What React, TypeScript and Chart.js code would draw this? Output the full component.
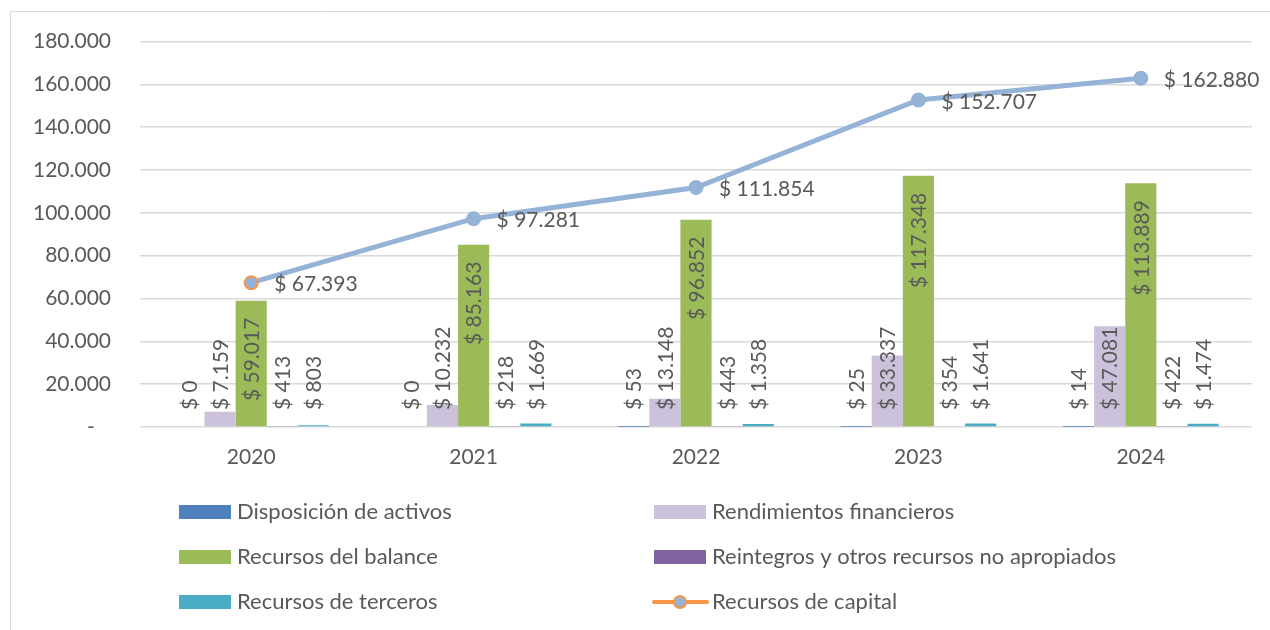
import React, { useEffect, useRef } from 'react';
import { Chart, registerables } from 'chart.js';

Chart.register(...registerables);

const categories = ['2020', '2021', '2022', '2023', '2024'];
const disposicionActivos = [0, 0, 53, 25, 14];
const rendimientosFinancieros = [7159, 10232, 13148, 33337, 47081];
const recursosBalance = [59017, 85163, 96852, 117348, 113889];
const reintegros = [413, 218, 443, 354, 422];
const recursosTerceros = [803, 1669, 1358, 1641, 1474];
const recursosCapital = [67393, 97281, 111854, 152707, 162880];

const yMin = 0;
const yMax = 180000;
const yStep = 20000;

const FONT = 'Lato';
const TEXT = '#595959';
const GRID = '#D9D9D9';
const C_BLUE = '#4F81BD';
const C_LAV = '#CCC1DA';
const C_GREEN = '#9BBB59';
const C_PURPLE = '#8064A2';
const C_TEAL = '#4BACC6';
const C_LINE = '#95B3D7';
const C_ORANGE = '#F79646';

function fmt(v: number): string {
  return Math.round(v).toString().replace(/\B(?=(\d{3})+(?!\d))/g, '.');
}

const framePlugin = {
  id: 'frame',
  beforeDraw(chart: any) {
    const ctx = chart.ctx;
    ctx.save();
    ctx.fillStyle = '#ffffff';
    ctx.fillRect(0, 0, chart.width, chart.height);
    ctx.strokeStyle = GRID;
    ctx.lineWidth = 1;
    ctx.beginPath();
    ctx.moveTo(10.5, chart.height);
    ctx.lineTo(10.5, 11.5);
    ctx.lineTo(chart.width, 11.5);
    ctx.stroke();
    ctx.restore();
  },
};

const labelsPlugin = {
  id: 'valueLabels',
  afterDatasetsDraw(chart: any) {
    const ctx = chart.ctx;
    const base = chart.scales.y.getPixelForValue(0);
    ctx.save();
    ctx.fillStyle = TEXT;
    ctx.font = `21px ${FONT}`;
    chart.data.datasets.forEach((ds: any, di: number) => {
      const meta = chart.getDatasetMeta(di);
      if (ds.type === 'line') {
        meta.data.forEach((pt: any, i: number) => {
          ctx.textAlign = 'left';
          ctx.textBaseline = 'middle';
          ctx.fillText('$ ' + fmt(ds.data[i]), pt.x + 23, pt.y + 2);
        });
      } else {
        meta.data.forEach((bar: any, i: number) => {
          const text = '$ ' + fmt(ds.data[i]);
          ctx.save();
          if (ds.label === 'Recursos del balance') {
            ctx.translate(bar.x + 1, bar.y + 17);
            ctx.rotate(-Math.PI / 2);
            ctx.textAlign = 'right';
          } else {
            ctx.translate(bar.x + 1, base - 17);
            ctx.rotate(-Math.PI / 2);
            ctx.textAlign = 'left';
          }
          ctx.textBaseline = 'middle';
          ctx.fillText(text, 0, 0);
          ctx.restore();
        });
      }
    });
    ctx.restore();
  },
};

const legendPlugin = {
  id: 'customLegend',
  afterDraw(chart: any) {
    const ctx = chart.ctx;
    const items = [
      { label: 'Disposición de activos', color: C_BLUE, col: 0, row: 0 },
      { label: 'Rendimientos financieros', color: C_LAV, col: 1, row: 0 },
      { label: 'Recursos del balance', color: C_GREEN, col: 0, row: 1 },
      { label: 'Reintegros y otros recursos no apropiados', color: C_PURPLE, col: 1, row: 1 },
      { label: 'Recursos de terceros', color: C_TEAL, col: 0, row: 2 },
      { label: 'Recursos de capital', color: C_ORANGE, col: 1, row: 2, line: true },
    ];
    const colX = [179, 654];
    const rowY = [512, 557, 602];
    ctx.save();
    ctx.font = `22px ${FONT}`;
    ctx.textBaseline = 'middle';
    ctx.textAlign = 'left';
    items.forEach((it) => {
      const x = colX[it.col];
      const y = rowY[it.row];
      if (it.line) {
        ctx.strokeStyle = C_ORANGE;
        ctx.lineWidth = 4;
        ctx.lineCap = 'round';
        ctx.beginPath();
        ctx.moveTo(x, y);
        ctx.lineTo(x + 53, y);
        ctx.stroke();
        ctx.beginPath();
        ctx.arc(x + 26, y, 6, 0, Math.PI * 2);
        ctx.fillStyle = C_LINE;
        ctx.fill();
        ctx.lineWidth = 2;
        ctx.strokeStyle = C_ORANGE;
        ctx.stroke();
      } else {
        ctx.fillStyle = it.color;
        ctx.fillRect(x, y - 7, 52, 14);
      }
      ctx.fillStyle = TEXT;
      ctx.fillText(it.label, x + 58, y);
    });
    ctx.restore();
  },
};

export default function App() {
  const ref = useRef<HTMLCanvasElement | null>(null);

  useEffect(() => {
    if (!ref.current) return;
    const chart = new Chart(ref.current, {
      type: 'bar',
      data: {
        labels: categories,
        datasets: [
          {
            type: 'line',
            label: 'Recursos de capital',
            data: recursosCapital,
            borderColor: C_LINE,
            backgroundColor: C_LINE,
            borderWidth: 5,
            pointRadius: 6.5,
            pointBackgroundColor: C_LINE,
            pointBorderColor: [C_ORANGE, C_LINE, C_LINE, C_LINE, C_LINE],
            pointBorderWidth: 2,
            tension: 0,
            order: -1,
          } as any,
          { label: 'Disposición de activos', data: disposicionActivos, backgroundColor: C_BLUE },
          { label: 'Rendimientos financieros', data: rendimientosFinancieros, backgroundColor: C_LAV },
          { label: 'Recursos del balance', data: recursosBalance, backgroundColor: C_GREEN },
          { label: 'Reintegros y otros recursos no apropiados', data: reintegros, backgroundColor: C_PURPLE },
          { label: 'Recursos de terceros', data: recursosTerceros, backgroundColor: C_TEAL },
        ],
      },
      options: {
        responsive: false,
        animation: false,
        datasets: {
          bar: { categoryPercentage: 0.7, barPercentage: 1.0 },
        },
        layout: { padding: { left: 0, right: 18, top: 41, bottom: 0 } },
        plugins: {
          legend: { display: false },
          tooltip: { enabled: false },
        },
        scales: {
          x: {
            grid: { display: false, drawTicks: false },
            border: { display: false },
            ticks: { font: { family: FONT, size: 21 }, color: TEXT, padding: 18 },
            afterFit(scale: any) {
              scale.height = 203;
            },
          },
          y: {
            min: yMin,
            max: yMax,
            grid: { color: GRID, lineWidth: 1.5, drawTicks: false },
            border: { display: false },
            ticks: {
              stepSize: yStep,
              font: { family: FONT, size: 21 },
              color: TEXT,
              padding: 29,
              callback: (v: any) => (Number(v) === 0 ? '-   ' : fmt(Number(v))),
            },
            afterFit(scale: any) {
              scale.width = 140;
            },
          },
        },
      },
      plugins: [framePlugin, labelsPlugin, legendPlugin],
    });
    return () => chart.destroy();
  }, []);

  return (
    <div style={{ position: 'absolute', left: 0, top: 0, width: 1270, height: 630 }}>
      <canvas ref={ref} width={1270} height={630} />
    </div>
  );
}
